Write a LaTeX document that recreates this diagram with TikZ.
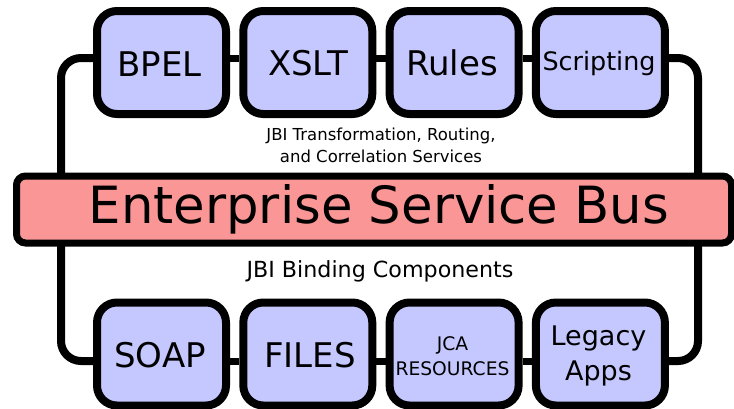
\documentclass[tikz,border=0pt]{standalone}
\usepackage{fontspec}
\setmainfont{DejaVu Sans}
\definecolor{boxfill}{RGB}{197,200,255}
\definecolor{busfill}{RGB}{250,150,150}
\begin{document}
\begin{tikzpicture}[x=1pt,y=-1pt,
  compbox/.style={draw=black, fill=boxfill, line width=8pt, rounded corners=20pt,
    minimum width=129pt, minimum height=103pt, inner sep=0pt},
  busbar/.style={draw=black, fill=busfill, line width=7pt, rounded corners=9pt,
    minimum width=715pt, minimum height=67pt, inner sep=0pt},
  wire/.style={draw=black, line width=7pt},
  loopwire/.style={draw=black, line width=8pt, rounded corners=20pt},
  big/.style={font=\fontsize{34}{34}\selectfont, anchor=base},
  mid/.style={font=\fontsize{25.4}{25.4}\selectfont, anchor=base},
  small/.style={font=\fontsize{18.7}{18.7}\selectfont, anchor=base},
  legacyf/.style={font=\fontsize{27}{27}\selectfont, anchor=base},
  note/.style={font=\fontsize{16.5}{16.5}\selectfont, anchor=base},
  notebig/.style={font=\fontsize{22.2}{22.2}\selectfont, anchor=base},
  esbtext/.style={font=\fontsize{51.3}{51.3}\selectfont, anchor=base}]
\useasboundingbox (0,0) rectangle (734,408);

% top row
\node[compbox] (bpel) at (161.5,62.5) {};
\node[compbox] (xslt) at (307.8,62.5) {};
\node[compbox] (rules) at (454.1,62.5) {};
\node[compbox] (script) at (600.4,62.5) {};
% bottom row
\node[compbox] (soap) at (161.5,354) {};
\node[compbox] (files) at (307.8,354) {};
\node[compbox] (jca) at (454.1,354) {};
\node[compbox] (legacy) at (600.4,354) {};

\coordinate (tl) at (0,58);
\coordinate (bl) at (0,361);
\coordinate (lt) at (61,58);
\coordinate (lb) at (61,361);
\coordinate (rt) at (698,58);
\coordinate (rb) at (698,361);

% connectors between boxes
\draw[wire] (bpel.east |- tl) -- (xslt.west |- tl);
\draw[wire] (xslt.east |- tl) -- (rules.west |- tl);
\draw[wire] (rules.east |- tl) -- (script.west |- tl);
\draw[wire] (soap.east |- bl) -- (files.west |- bl);
\draw[wire] (files.east |- bl) -- (jca.west |- bl);
\draw[wire] (jca.east |- bl) -- (legacy.west |- bl);

% outer loops
\draw[loopwire] (bpel.west |- tl) -- (lt) -- (lb) -- (soap.west |- bl);
\draw[loopwire] (script.east |- tl) -- (rt) -- (rb) -- (legacy.east |- bl);

% bus
\node[busbar] (esb) at (374,209.5) {};
\node[esbtext] (esbt) at (379,223) {Enterprise Service Bus};

% labels in boxes
\node[big] (tbpel) at (159.5,76) {BPEL};
\node[big] (txslt) at (308,75.5) {XSLT};
\node[big] (trules) at (452,75.5) {Rules};
\node[mid] (tscript) at (599,70) {Scripting};
\node[big] (tsoap) at (160,367) {SOAP};
\node[big] (tfiles) at (310,367) {FILES};
\node[small] (tjca) at (452.5,350) {JCA};
\node[small] (tres) at (452.5,375) {RESOURCES};
\node[legacyf] (tleg) at (598.5,345) {Legacy};
\node[legacyf] (tapps) at (598.5,380) {Apps};

% notes
\node[note] (n1) at (381,140) {JBI Transformation, Routing,};
\node[note] (n2) at (381,162) {and Correlation Services};
\node[notebig] (n3) at (380,277) {JBI Binding Components};
\end{tikzpicture}
\end{document}
